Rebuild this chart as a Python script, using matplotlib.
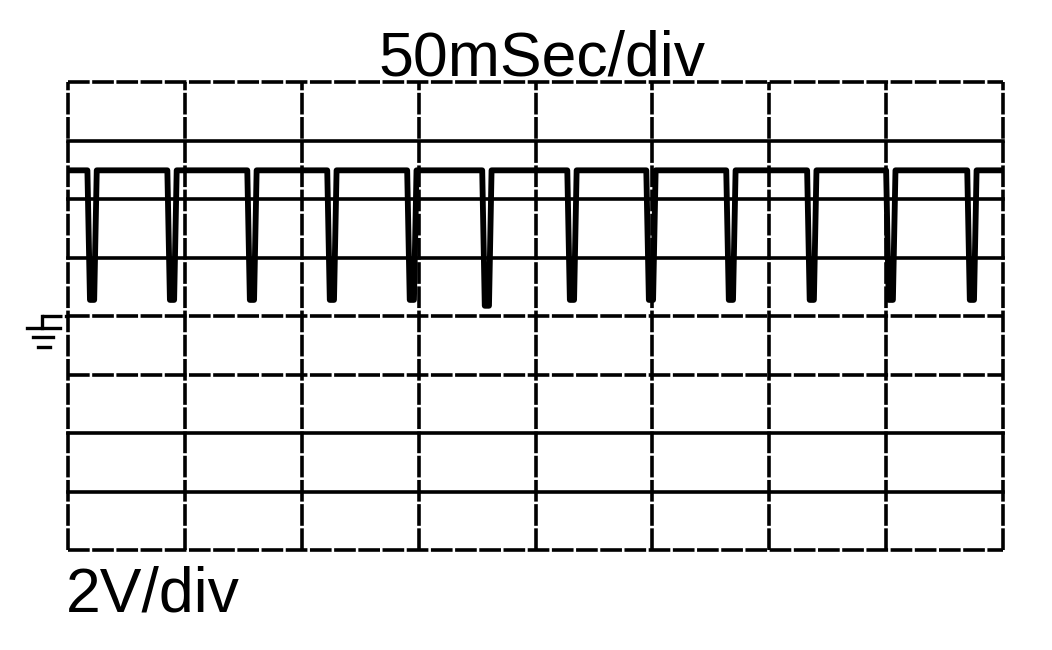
import numpy as np
import matplotlib
matplotlib.use('Agg')
import matplotlib.pyplot as plt

# scope settings
ms_per_div = 50
volt_per_div = 2
n_div_x = 8
n_div_y = 8

# trace (time of each dip in ms, bottom level in V)
dip_times = [10.3, 44.5, 78.7, 112.9, 147.1, 179.2, 215.6, 249.4, 283.6, 318.2, 352.0, 386.7]
dip_lows = [0.55, 0.55, 0.55, 0.55, 0.55, 0.35, 0.55, 0.55, 0.55, 0.55, 0.55, 0.55]
high_level = 4.98
edge_out = 2.0   # ms from dip centre to top of the edge
edge_in = 0.9    # ms from dip centre to bottom of the edge

title_txt = '50mSec/div'
volt_txt = '2V/div'

t_end = ms_per_div * n_div_x
v_top = volt_per_div * n_div_y / 2

t = [0.0]
v = [high_level]
for tc, lo in zip(dip_times, dip_lows):
    t += [tc - edge_out, tc - edge_in, tc + edge_in, tc + edge_out]
    v += [high_level, lo, lo, high_level]
t.append(t_end)
v.append(high_level)

plt.rcParams['font.family'] = ['Liberation Sans', 'DejaVu Sans']

fig = plt.figure(figsize=(10.52, 6.5), dpi=100)
ax = fig.add_axes([68 / 1052, 1 - 550 / 650, 935 / 1052, 468 / 650])
ax.set_xlim(0, t_end)
ax.set_ylim(-v_top, v_top)
for s in ax.spines.values():
    s.set_visible(False)
ax.set_xticks([])
ax.set_yticks([])

# graticule
dash = (0, (6, 0.7))
xs = np.arange(0, t_end + 1, ms_per_div)
ys = np.arange(-v_top, v_top + 0.1, volt_per_div)
for x in xs:
    ax.axvline(x, color='black', lw=2.6, ls=dash, clip_on=False)
solid_rows = [-6, -4, 2, 4, 6]
for y in ys:
    if y in solid_rows:
        ax.axhline(y, color='black', lw=2.6, clip_on=False)
    else:
        ax.axhline(y, color='black', lw=2.6, ls=dash, clip_on=False)

ax.plot(t, v, color='black', lw=4.2, solid_joinstyle='round', solid_capstyle='round')

# ground marker
tr = ax.transAxes
ax.plot([-0.028, 0], [0.5, 0.5], color='black', lw=2.4, ls=dash, transform=tr, clip_on=False)
ax.plot([-0.028, -0.028], [0.5, 0.474], color='black', lw=2.4, transform=tr, clip_on=False)
ax.plot([-0.044, -0.009], [0.474, 0.474], color='black', lw=2.4, transform=tr, clip_on=False)
ax.plot([-0.037, -0.016], [0.455, 0.455], color='black', lw=2.4, transform=tr, clip_on=False)
ax.plot([-0.032, -0.019], [0.434, 0.434], color='black', lw=2.4, transform=tr, clip_on=False)

fig.text(542 / 1052, 1 - 75 / 650, title_txt, ha='center', va='baseline', fontsize=45)
fig.text(66 / 1052, 1 - 612 / 650, volt_txt, ha='left', va='baseline', fontsize=45)

fig.savefig('out.png', dpi=100, facecolor='white')
